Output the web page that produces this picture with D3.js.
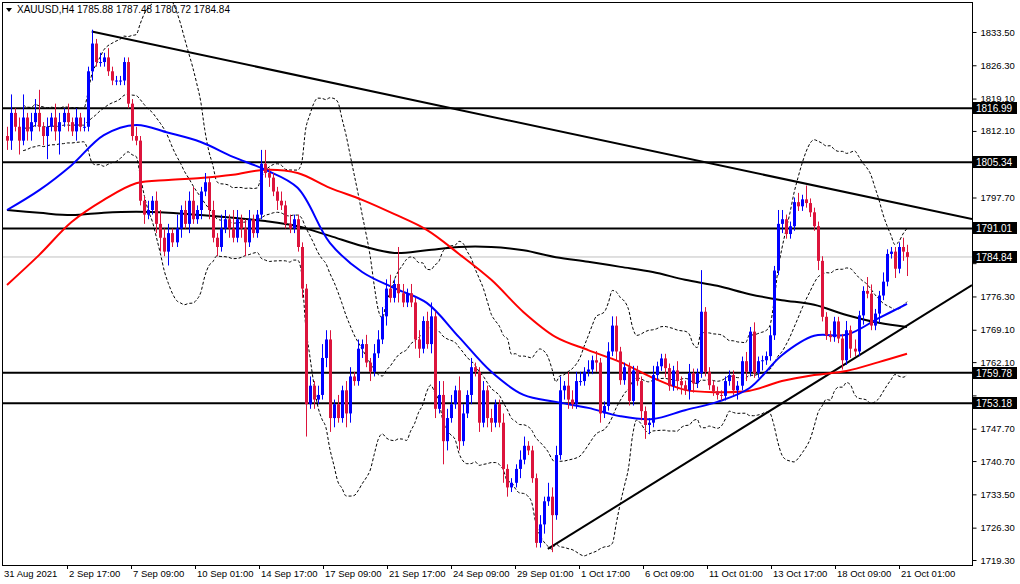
<!DOCTYPE html>
<html><head><meta charset="utf-8">
<script src="https://cdn.jsdelivr.net/npm/d3@7"></script>
<style>body{margin:0;background:#fff}svg{display:block}</style>
</head><body>
<svg id="c" width="1020" height="584"></svg>
<script>
const closes = [
1810,1816,1813,1810,1815,1812,1814,1816,1813,1811,
1813,1815,1812,1814,1816,1814,1812,1815,1813,1813,
1825,1831,1827,1827,1828,1825,1823,1823,1823,1827,
1818,1811,1810,1797,1794,1795,1797,1792,1789,1786,
1790,1788,1791,1795,1792,1797,1793,1795,1799,1801,
1795,1789,1787,1791,1793,1791,1789,1793,1791,1788,
1793,1790,1794,1805,1803,1802,1799,1797,1796,1792,
1791,1793,1787,1778,1753,1757,1754,1755,1763,1767,
1750,1753,1750,1756,1751,1759,1758,1765,1766,1762,
1760,1764,1767,1772,1778,1776,1779,1777,1775,1777,
1775,1767,1765,1771,1766,1772,1752,1755,1745,1750,
1753,1756,1745,1751,1755,1761,1760,1749,1756,1750,
1749,1753,1749,1739,1735,1736,1739,1741,1744,1743,
1737,1723,1727,1732,1733,1729,1742,1756,1757,1754,
1753,1758,1758,1760,1760.5,1762.5,1762,1751,1752.6,1764.4,
1770,1764.4,1758.2,1761,1753.7,1760.3,1758,1751.5,1748.5,1749,
1759.3,1761.2,1762.9,1760.8,1756.9,1760.3,1758,1757.1,1756,1759.7,
1757.5,1759.7,1773,1760,1757.1,1755.8,1755,1754.8,1758,1759.3,
1756,1757,1762.3,1760,1768.7,1759.7,1762.3,1762.5,1763.4,1767.9,
1781.9,1792,1793,1789.8,1791.5,1796.7,1795.8,1797.3,1796.5,1794.5,
1791.5,1784,1771.9,1767.9,1767.5,1770.9,1767.2,1762.5,1769,1765,
1764.4,1772.2,1777.5,1776.9,1770,1772.6,1776.5,1779.5,1785.5,1786,
1782.3,1787,1786,1784.84];
const firstOpen = 1811;
const lastOHLC = [1785.88, 1787.48, 1780.72, 1784.84];
const upWick = [
2,4,1,2,5,1,2,3,5,1, 2,1,3,2,1,2,1,2,1,2, 1,3,1,2,1,2,1,1,1,1, 1,1,2,1,1,2,1,2,3,2,
2,1,3,1,2,2,3,1,1,2, 1,2,1,3,2,1,4,2,1,2, 2,1,1,3,3,1,1,1,2,1, 2,1,1,1,1,2,1,2,3,2,
2,1,2,1,2,2,1,2,1,2, 1,2,2,2,2,3,1,8,2,1, 2,1,2,1,2,3,1,3,3,2, 2,1,3,2,1,2,1,1,2,1,
2,1,1,2,1,1,1,2,2,1, 1,1,2,1,3,2,2,3,1,3, 2,2,2,1,2,1,2,1,1,2, 2,2,1,1,1,1,1,1,1,1,
2,1,1,1,1,1,2,1,1,2, 1,1,9,1,1,1,1,1,1,1, 1,1,1,2,1,2,1,1,1,2, 1,3,2,1,1,1,2,1,3,1,
1,1,1,1,1,1,1,1,2,1, 2,1,1,3,2,1,1,2,1,1, 1,1,2,1];
const dnWick = [
2,2,1,3,1,2,2,1,1,2, 5,1,2,5,1,2,1,2,1,1, 1,2,1,1,1,1,1,1,1,1, 1,1,1,1,2,1,1,2,3,1,
3,1,1,2,1,2,1,1,2,1, 2,1,2,1,1,2,1,1,2,3, 1,1,1,1,1,2,1,2,1,1, 1,1,1,2,7,1,2,1,1,2,
3,2,1,1,3,2,1,1,2,1, 2,1,1,1,2,1,1,2,1,1, 1,2,2,1,1,2,2,1,5,2, 1,1,2,1,1,2,1,2,1,2,
2,1,1,3,2,1,1,2,1,1, 1,1,1,2,1,8,1,1,2,2, 1,1,1,1,1,1,2,2,1,1, 1,2,1,1,1,1,1,2,3,2,
1,1,1,2,1,1,2,2,1,2, 2,1,1,1,1,1,1,1,1,1, 1,2,1,2,1,1,1,2,1,1, 1,1,2,1,1,1,1,1,1,1,
1,2,1,1,1,1,1,2,1,2, 1,1,2,1,1,1,2,1,1,1, 2,1,2,1];
const maIdx = [0,8,16,24,32,40,48,56,64,72,80,88,96,104,112,120,128,136,144,152,160,168,176,184,192,200,208,216,223];
const maBlue = [1795.0,1799.3,1804.7,1811.2,1813.4,1811.7,1809.7,1806.5,1803.7,1799.8,1787.9,1781.6,1778.1,1774.9,1767.5,1760.0,1755.0,1753.5,1752.2,1750.4,1749.8,1751.7,1753.5,1756.5,1763.6,1767.8,1768.0,1771.6,1774.7];
const maRed = [1778.8,1785.3,1792.4,1797.2,1800.8,1801.5,1801.9,1802.6,1803.7,1803.0,1799.8,1797.2,1794.1,1790.7,1785.5,1779.9,1772.9,1767.5,1764.7,1762.1,1758.7,1756.1,1755.6,1755.9,1758.0,1759.3,1760.2,1762.1,1763.9];
const maBlack = [1795.0,1794.4,1793.9,1794.4,1794.6,1794.4,1793.9,1793.3,1792.6,1791.5,1789.4,1787.2,1785.7,1786.3,1787.0,1787.0,1786.3,1784.8,1783.8,1782.7,1781.6,1779.9,1778.6,1776.8,1775.5,1774.5,1772.3,1770.6,1769.7];
const levels = [1816.99,1805.34,1791.01,1759.78,1753.18];
const current = 1784.84;
const priceTicks = [1833.5,1826.3,1819.1,1812.1,1804.9,1797.7,1790.5,1783.5,1776.3,1769.1,1762.1,1754.9,1747.7,1740.7,1733.5,1726.3,1719.3];
const timeLabels = ["31 Aug 2021","2 Sep 17:00","7 Sep 09:00","10 Sep 01:00","14 Sep 17:00","17 Sep 09:00","21 Sep 17:00","24 Sep 09:00","29 Sep 01:00","1 Oct 17:00","6 Oct 09:00","11 Oct 01:00","13 Oct 17:00","18 Oct 09:00","21 Oct 01:00"];
const trendTop = [[21,1833.6],[200,1800.3]];
const trendBot = [[134,1721.7],[223,1770.0]];
const title = "XAUUSD,H4  1785.88 1787.48 1780.72 1784.84";

const N = closes.length;
const L=3, R=972, T=3, B=565;
const x = d3.scaleLinear().domain([0, N-1]).range([7, 907]);
const y = d3.scaleLinear().domain([1718.22, 1839.77]).range([B, T]);
const svg = d3.select("#c");
const font = "'Liberation Sans', Arial, sans-serif";

svg.append("defs").append("clipPath").attr("id","clip").append("rect")
  .attr("x",L).attr("y",T).attr("width",R-L).attr("height",B-T);
const g = svg.append("g").attr("clip-path","url(#clip)");

const candles = closes.map((c,i)=>{
  let o = i===0 ? firstOpen : closes[i-1];
  let h = Math.max(o,c)+upWick[i], l = Math.min(o,c)-dnWick[i];
  if (i===N-1){ o=lastOHLC[0]; h=lastOHLC[1]; l=lastOHLC[2]; }
  return {i,o,h,l,c};
});

g.append("line").attr("x1",L).attr("x2",R).attr("y1",y(current)).attr("y2",y(current))
  .attr("stroke","#c0c0c0").attr("stroke-width",1);

const bb = closes.map((c,i)=>{
  const w = closes.slice(Math.max(0,i-19), i+1);
  const m = d3.mean(w), s = Math.sqrt(d3.mean(w.map(v=>(v-m)*(v-m))));
  return {i, m, u:m+2*s, d:m-2*s};
}).filter(d=>d.i>=4);
["u","m","d"].forEach(k=>{
  g.append("path").datum(bb)
   .attr("d", d3.line().x(d=>x(d.i)).y(d=>y(d[k])).curve(d3.curveMonotoneX))
   .attr("fill","none").attr("stroke","#000").attr("stroke-width",1).attr("stroke-dasharray","3,2");
});

levels.forEach(v=>{
  g.append("line").attr("x1",L).attr("x2",R).attr("y1",y(v)).attr("y2",y(v))
   .attr("stroke","#000").attr("stroke-width",2);
});

function trend(pts){
  const [a,b]=pts; const slope=(b[1]-a[1])/(b[0]-a[0]);
  const iEnd = x.invert(R);
  g.append("line").attr("x1",x(a[0])).attr("y1",y(a[1]))
    .attr("x2",x(iEnd)).attr("y2",y(a[1]+slope*(iEnd-a[0])))
    .attr("stroke","#000").attr("stroke-width",2);
}
trend(trendTop); trend(trendBot);

[[maBlack,"#000"],[maRed,"#ff0000"],[maBlue,"#0000ff"]].forEach(([arr,col])=>{
  g.append("path").datum(arr.map((v,k)=>[maIdx[k],v]))
   .attr("d", d3.line().x(d=>x(d[0])).y(d=>y(d[1])).curve(d3.curveCatmullRom))
   .attr("fill","none").attr("stroke",col).attr("stroke-width",2);
});

const cg = g.append("g");
candles.forEach(d=>{
  const col = d.c>=d.o ? "#0000ff" : "#dc143c";
  const cx = Math.round(x(d.i));
  cg.append("line").attr("x1",cx+0.5).attr("x2",cx+0.5).attr("y1",y(d.h)).attr("y2",y(d.l))
    .attr("stroke",col).attr("stroke-width",1);
  const top=y(Math.max(d.o,d.c)), bot=y(Math.min(d.o,d.c));
  cg.append("rect").attr("x",cx-1).attr("y",top).attr("width",3).attr("height",Math.max(1,bot-top)).attr("fill",col);
});

svg.append("rect").attr("x",L-0.5).attr("y",T-0.5).attr("width",R-L+1).attr("height",B-T+1)
  .attr("fill","none").attr("stroke","#000").attr("stroke-width",1);

// right axis; ticks hidden under a level label box are drawn without text
const boxed = levels.concat([current]);
const hidden = v => boxed.some(b=>Math.abs(y(b)-y(v))<8);
const ax = svg.append("g").attr("transform",`translate(${R+0.5},0)`)
  .call(d3.axisRight(y).tickValues(priceTicks).tickSize(4).tickPadding(4)
    .tickFormat(v=>hidden(v)?"":d3.format(".2f")(v)));
ax.select(".domain").remove();
ax.selectAll("text").attr("font-family",font).attr("font-size","9.5px").attr("fill","#000");
ax.selectAll("line").attr("stroke","#000");

boxed.forEach(v=>{
  const yy = Math.round(y(v));
  svg.append("rect").attr("x",R+1).attr("y",yy-6).attr("width",44).attr("height",12).attr("fill","#000");
  svg.append("text").attr("x",R+4).attr("y",yy+4).attr("font-family",font).attr("font-size","10px")
    .attr("fill","#fff").text(d3.format(".2f")(v));
});

const step = (x(N-1)-x(0))/(N-1);
timeLabels.forEach((t,k)=>{
  const idx = (64*k - 4)/step;
  const tx = Math.round(x(idx));
  if(k>0) svg.append("line").attr("x1",tx+0.5).attr("x2",tx+0.5).attr("y1",B).attr("y2",B+4).attr("stroke","#000");
  svg.append("text").attr("x",k===0?L+1:tx+2).attr("y",B+12).attr("font-family",font).attr("font-size","9.5px").text(t);
});

svg.append("path").attr("d","M6,8 L12,8 L9,12 Z").attr("fill","#000");
svg.append("text").attr("x",17).attr("y",13).attr("font-family",font).attr("font-size","10px").text(title);
</script>
</body></html>
